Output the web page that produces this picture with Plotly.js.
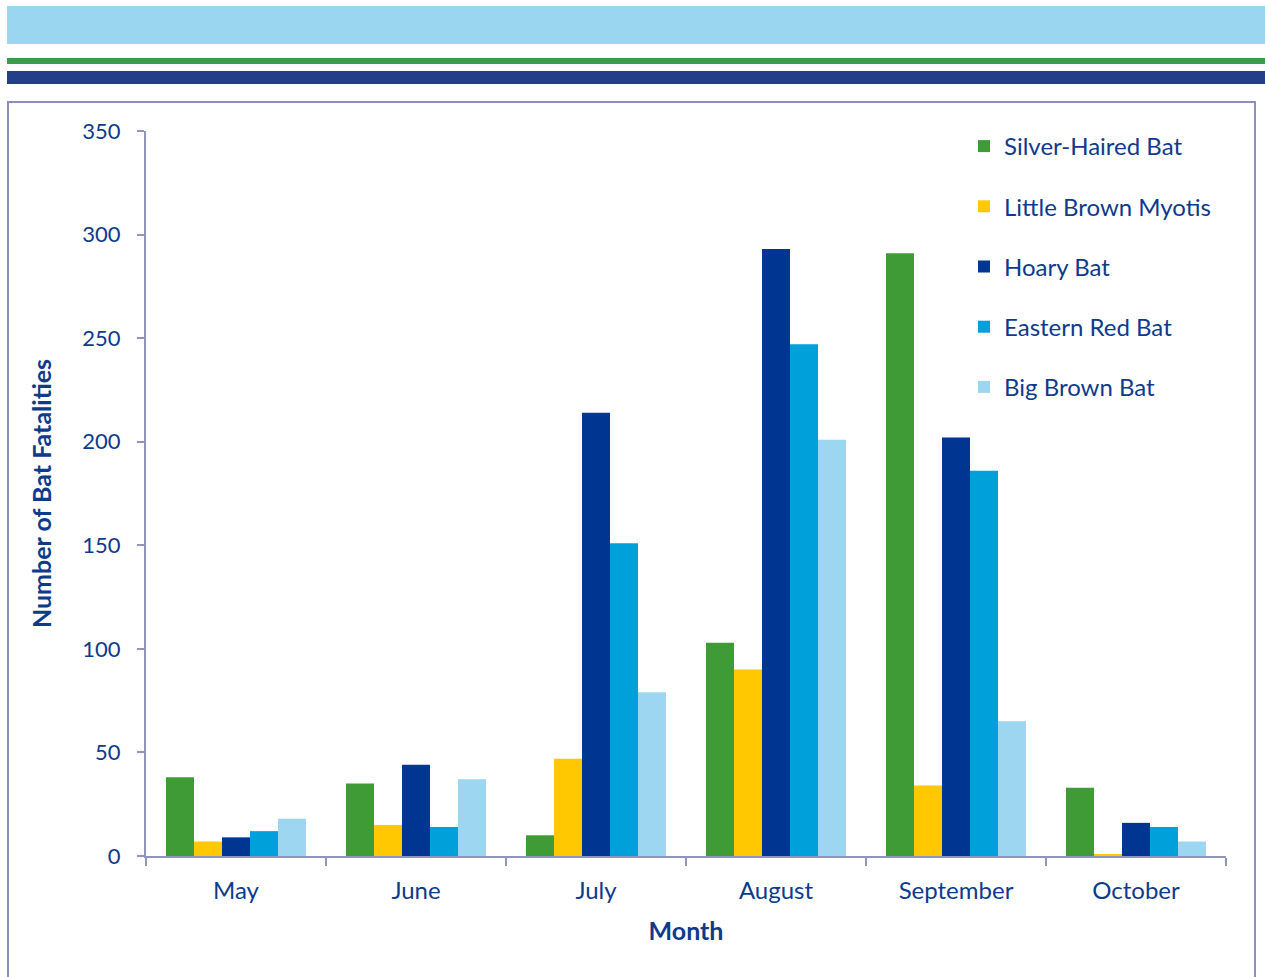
<!DOCTYPE html>
<html><head><meta charset="utf-8">
<script src="https://cdn.plot.ly/plotly-3.0.1.min.js"></script>
<style>html,body{margin:0;padding:0;background:#fff}#chart{width:1265px;height:977px}</style>
</head><body><div id="chart"></div>
<script>
const months = ["May","June","July","August","September","October"];
const seriesNames = ["Silver-Haired Bat","Little Brown Myotis","Hoary Bat","Eastern Red Bat","Big Brown Bat"];
const silverHaired = [38,35,10,103,291,33];
const littleBrownMyotis = [7,15,47,90,34,1];
const hoary = [9,44,214,293,202,16];
const easternRed = [12,14,151,247,186,14];
const bigBrown = [18,37,79,201,65,7];
const colors = ["#3F9B35","#FFC800","#003591","#00A0DA","#9CD6F0"];
const allValues = [silverHaired,littleBrownMyotis,hoary,easternRed,bigBrown];
const textColor = "#0E3A8C";
const axisColor = "#9095BC";
const FONT = "Lato, 'Open Sans', sans-serif";

const traces = allValues.map((v,i)=>({
  type:"bar", x:months, y:v, name:seriesNames[i], legendgroup:"g"+i,
  marker:{color:colors[i]}, hoverinfo:"y"
}));

const L=146, R=39, T=131, B=121, W=1265, H=977;
const pw=W-L-R, ph=H-T-B;
const px = x=>(x-L)/pw;
const py = y=>(H-B-y)/ph;

const layout = {
  width:W, height:H,
  margin:{l:L,r:R,t:T,b:B},
  paper_bgcolor:"#fff", plot_bgcolor:"#fff",
  font:{family:FONT, color:textColor, size:24},
  barmode:"group", bargap:0.222, bargroupgap:0,
  showlegend:true,
  legend:{x:px(964), y:py(124), xanchor:"left", yanchor:"top", font:{size:24,color:textColor},
    tracegroupgap:26, itemwidth:30, bgcolor:"rgba(0,0,0,0)"},
  xaxis:{type:"category", showline:true, linecolor:axisColor, linewidth:2,
    ticks:"outside", tickson:"boundaries", ticklen:8, tickcolor:axisColor, tickwidth:2,
    showgrid:false, zeroline:false, tickfont:{size:24,color:textColor},
    ticklabelstandoff:12,
    title:{text:"<b>Month</b>", font:{size:25,color:textColor}, standoff:20}},
  yaxis:{range:[0,350], dtick:50, showline:true, linecolor:axisColor, linewidth:2,
    ticks:"outside", ticklen:7, tickcolor:axisColor, tickwidth:2,
    showgrid:false, zeroline:false, tickfont:{size:22,color:textColor},
    ticklabelstandoff:12,
    title:{text:"<b>Number of Bat Fatalities</b>", font:{size:25,color:textColor}, standoff:24}},
  shapes:[
    {type:"rect", xref:"paper", yref:"paper", x0:px(7), x1:px(1266), y0:py(44), y1:py(6), fillcolor:"#9AD6F0", line:{width:0}, layer:"below"},
    {type:"rect", xref:"paper", yref:"paper", x0:px(7), x1:px(1266), y0:py(64), y1:py(58), fillcolor:"#3F9B45", line:{width:0}, layer:"below"},
    {type:"rect", xref:"paper", yref:"paper", x0:px(7), x1:px(1266), y0:py(84), y1:py(71), fillcolor:"#243F8A", line:{width:0}, layer:"below"},
    {type:"rect", xref:"paper", yref:"paper", x0:px(8), x1:px(1255), y0:py(1000), y1:py(102), fillcolor:"rgba(0,0,0,0)", line:{width:2,color:"#8C90B8"}, layer:"below"}
  ]
};
Plotly.newPlot("chart", traces, layout, {displayModeBar:false, staticPlot:true});
</script></body></html>
